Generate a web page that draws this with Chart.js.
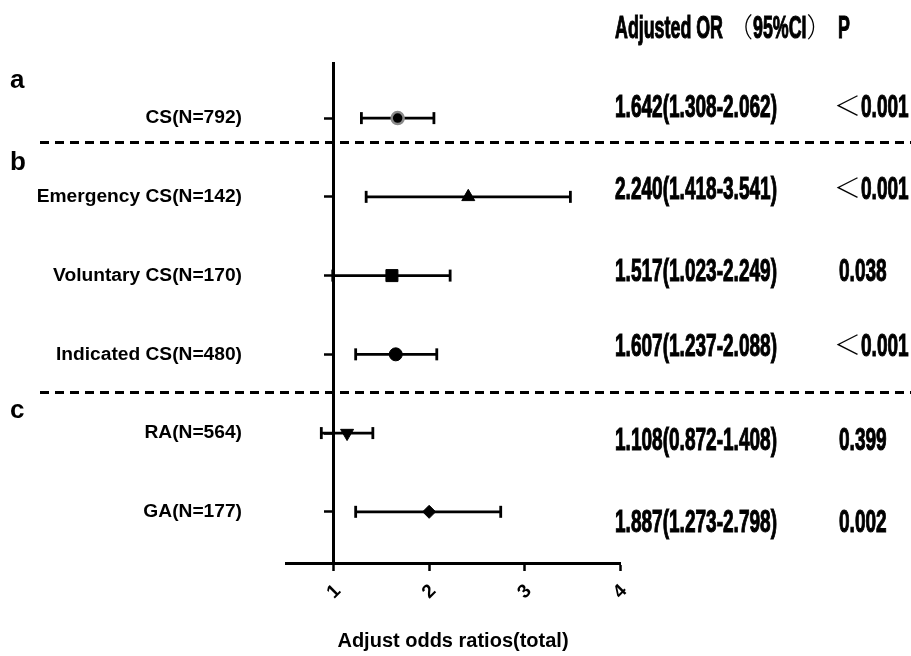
<!DOCTYPE html>
<html><head><meta charset="utf-8">
<script src="https://cdn.jsdelivr.net/npm/chart.js@4.4.1/dist/chart.umd.min.js"></script>
<style>html,body{margin:0;padding:0;background:#fff;overflow:hidden}</style>
</head><body>
<canvas id="c" width="911" height="656"></canvas>
<script>
// ---- data ----
const categories = ['CS(N=792)', 'Emergency CS(N=142)', 'Voluntary CS(N=170)', 'Indicated CS(N=480)', 'RA(N=564)', 'GA(N=177)'];
const oddsRatios = [1.67, 2.41, 1.61, 1.65, 1.14, 2.00];
const ciLower = [1.29, 1.34, 0.99, 1.23, 0.87, 1.23];
const ciUpper = [2.05, 3.48, 2.22, 2.08, 1.41, 2.75];
const orLabels = ['1.642(1.308-2.062)', '2.240(1.418-3.541)', '1.517(1.023-2.249)', '1.607(1.237-2.088)', '1.108(0.872-1.408)', '1.887(1.273-2.798)'];
const pLabels = ['＜0.001', '＜0.001', '0.038', '＜0.001', '0.399', '0.002'];
const xTickValues = [1, 2, 3, 4];
const groupLetters = ['a', 'b', 'c'];
const headerParts = ['Adjusted OR', '（95%CI）', 'P'];
const xTitle = 'Adjust odds ratios(total)';

// ---- layout / style ----
const rowIdx = categories.map((_, i) => i);
const markerStyles = ['circle', 'triangle', 'rect', 'circle', 'triangle', 'rectRot'];
const markerRadius = [6, 7.5, 8.5, 6.5, 7.5, 6.5];
const markerRotation = [0, 0, 0, 0, 180, 0];
const markerBorder = ['#8a8a8a', '#000', '#000', '#000', '#000', '#000'];
const markerBorderW = [2.5, 1, 1, 1, 1, 1];
const textRowPos = [-0.15, 0.89, 1.93, 2.88, 4.07, 5.12];
const letterRowPos = [-0.38, 0.66, 3.81];
const dividerPos = [0.30, 3.48];

const FONT = '"Liberation Sans", Arial, sans-serif';
const NARROW = '"Liberation Sans Narrow", "Liberation Sans", Arial, sans-serif';
const CJK = '"Noto Sans CJK SC", sans-serif';

const errorSets = rowIdx.map(i => ({
  type: 'line',
  data: [{x: ciLower[i], y: i}, {x: ciUpper[i], y: i}],
  showLine: true,
  borderColor: '#000',
  borderWidth: 2.8,
  pointStyle: 'line',
  pointRotation: 90,
  pointRadius: 6,
  pointBorderWidth: 2.8,
  pointBorderColor: '#000',
  pointBackgroundColor: '#000',
  order: 2
}));

const markerSet = {
  type: 'scatter',
  data: rowIdx.map(i => ({x: oddsRatios[i], y: i})),
  pointStyle: markerStyles,
  pointRadius: markerRadius,
  pointRotation: markerRotation,
  pointBackgroundColor: '#000',
  pointBorderColor: markerBorder,
  pointBorderWidth: markerBorderW,
  order: 1
};

const annot = {
  id: 'annot',
  afterDraw(chart) {
    const ctx = chart.ctx, ys = chart.scales.y;
    ctx.save();
    // dividers
    ctx.strokeStyle = '#000'; ctx.lineWidth = 3; ctx.setLineDash([9, 6]);
    dividerPos.forEach(v => {
      const py = Math.round(ys.getPixelForValue(v)) + 0.5;
      ctx.beginPath(); ctx.moveTo(40, py); ctx.lineTo(911, py); ctx.stroke();
    });
    ctx.setLineDash([]);
    // group letters
    ctx.fillStyle = '#000'; ctx.strokeStyle = '#000';
    ctx.font = 'bold 26px ' + FONT;
    ctx.textAlign = 'left'; ctx.textBaseline = 'alphabetic';
    groupLetters.forEach((t, i) => ctx.fillText(t, 10, ys.getPixelForValue(letterRowPos[i])));
    // condensed text columns
    const FS = 31;
    ctx.font = 'bold ' + FS + 'px ' + NARROW;
    const sx = 162 / ctx.measureText(orLabels[0]).width;
    const capH = FS * 0.716;
    const put = (text, x, cy, scale) => {
      const segs = text.match(/[\uFF00-\uFFEF]+|[^\uFF00-\uFFEF]+/g);
      let cx = x;
      const base = cy + capH / 2;
      segs.forEach(seg => {
        const full = /[\uFF00-\uFFEF]/.test(seg);
        ctx.save();
        if (full) {
          ctx.font = '300 27px ' + CJK;
          ctx.translate(cx, base - 1);
          ctx.fillText(seg, 0, 0);
          cx += ctx.measureText(seg).width;
        } else {
          ctx.font = 'bold ' + FS + 'px ' + NARROW;
          ctx.translate(cx, base);
          ctx.scale(scale, 1);
          ctx.lineWidth = 1.1;
          ctx.fillText(seg, 0, 0);
          ctx.strokeText(seg, 0, 0);
          cx += ctx.measureText(seg).width * scale;
        }
        ctx.restore();
      });
    };
    rowIdx.forEach(i => {
      const cy = ys.getPixelForValue(textRowPos[i]);
      put(orLabels[i], 615, cy, sx);
      const pStart = /^[\uFF00-\uFFEF]/.test(pLabels[i]) ? 834 : 839;
      put(pLabels[i], pStart, cy, sx);
    });
    ctx.font = 'bold ' + FS + 'px ' + NARROW;
    const hsx = 108 / ctx.measureText(headerParts[0]).width;
    put(headerParts[0], 615, 27, hsx);
    put(headerParts[1], 726, 27, hsx);
    put(headerParts[2], 838, 27, hsx);
    ctx.restore();
  }
};

const yCommon = {
  type: 'linear', reverse: true, min: -0.7, max: 5.65,
  afterBuildTicks: s => { s.ticks = rowIdx.map(v => ({value: v})); }
};

new Chart(document.getElementById('c'), {
  type: 'scatter',
  data: {datasets: [markerSet, ...errorSets]},
  options: {
    responsive: false, animation: false,
    layout: {padding: {left: 0, right: 291, top: 63, bottom: 0}},
    plugins: {legend: {display: false}, tooltip: {enabled: false}},
    scales: {
      x: {
        type: 'linear', position: 'bottom', min: 0.5, max: 4,
        afterBuildTicks: s => { s.ticks = xTickValues.map(v => ({value: v})); },
        afterFit: s => { s.height = 93; },
        grid: {display: true, drawOnChartArea: false, drawTicks: true, tickLength: 8, tickWidth: 2.5, tickColor: '#000'},
        border: {display: true, color: '#000', width: 3},
        ticks: {color: '#000', font: {family: FONT, size: 19, weight: 'bold'}, minRotation: 45, maxRotation: 45, padding: 9, labelOffset: 4},
        title: {display: true, text: xTitle, color: '#000', font: {family: FONT, size: 20, weight: 'bold'}, padding: {top: 0, bottom: 3}}
      },
      y: Object.assign({}, yCommon, {
        position: 'left',
        afterFit: s => { s.width = 286; },
        grid: {display: false},
        border: {display: false},
        ticks: {color: '#000', padding: 36, font: {family: FONT, size: 19.2, weight: 'bold'}, callback: v => categories[v] ?? ''}
      }),
      y2: Object.assign({}, yCommon, {
        position: {x: 1},
        grid: {display: true, drawOnChartArea: false, drawTicks: true, tickLength: 8, tickWidth: 2.5, tickColor: '#000'},
        border: {display: true, color: '#000', width: 3},
        ticks: {display: true, callback: () => ''}
      })
    }
  },
  plugins: [annot]
});
</script>
</body></html>
